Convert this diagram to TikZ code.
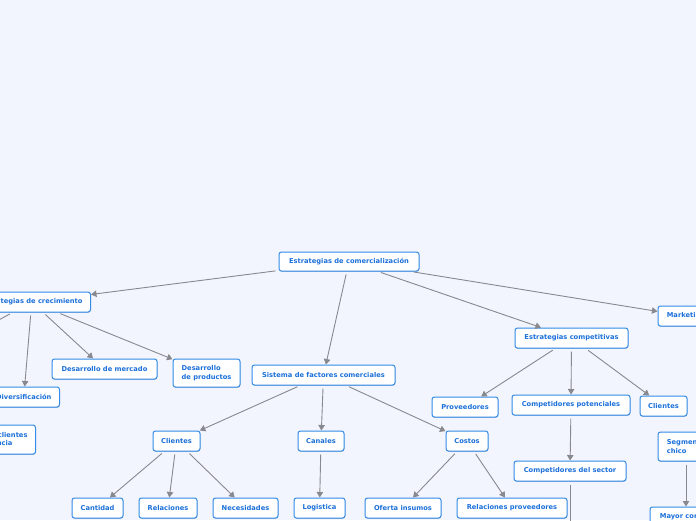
\documentclass[tikz,border=0pt]{standalone}
\usepackage{fontspec}
\setmainfont{DejaVu Sans}
\usetikzlibrary{arrows.meta,shadows}
\definecolor{bgc}{RGB}{242,245,254}
\definecolor{bordc}{RGB}{52,140,230}
\definecolor{txtc}{RGB}{28,112,218}
\definecolor{edgec}{RGB}{136,137,142}
\begin{document}
\begin{tikzpicture}[x=1pt,y=-1pt,
  box/.style={draw=bordc, fill=white, rounded corners=2.5pt, line width=1pt, text=txtc,
    font=\fontsize{6.7}{8.4}\selectfont\bfseries, minimum height=20pt, inner xsep=8pt, inner ysep=0pt,
    drop shadow={shadow xshift=0.3pt, shadow yshift=-0.8pt, fill=bordc!50!black, opacity=0.3}},
  twol/.style={align=left, minimum height=29pt},
  edgeline/.style={draw=edgec, line width=0.9pt, -{Triangle[length=5.5pt,width=6.5pt]}, shorten <=3pt}]
\useasboundingbox (0,0) rectangle (696,520);
\fill[bgc] (0,0) rectangle (696,520);
\begin{scope}
\clip (0,0) rectangle (696,520);
% level 0
\node[box, minimum width=140pt, minimum height=19pt] (com) at (349,261.5) {Estrategias de comercialización};
% left branch
\node[box, anchor=east] (crec) at (91,302) {Estrategias de crecimiento};
\node[box, minimum width=105pt] (dmer) at (104.5,369) {Desarrollo de mercado};
\node[box, twol, minimum width=67pt, minimum height=28pt] (dpro) at (206.5,373) {Desarrollo\\de productos};
\node[box, anchor=east] (div) at (60,397) {Diversificación};
\node[box, twol, anchor=east] (capt) at (36,439.5) {Captar más clientes\\de competencia};
\coordinate (off1) at (-60,352);
% middle branch
\node[box, minimum width=143pt] (sist) at (323.5,375) {Sistema de factores comerciales};
\node[box, minimum width=47pt] (cli1) at (176.5,441) {Clientes};
\node[box, minimum width=46pt] (can) at (321,441) {Canales};
\node[box, minimum width=42pt] (cost) at (467,441) {Costos};
\node[box, minimum width=51pt] (cant) at (97.5,508) {Cantidad};
\node[box, minimum width=58pt] (rel) at (168,508) {Relaciones};
\node[box, minimum width=65pt] (nec) at (245.5,508) {Necesidades};
\node[box, minimum width=51pt] (log) at (319.5,508) {Logistica};
\node[box, minimum width=76pt] (ofer) at (403,508) {Oferta insumos};
\node[box, minimum width=110pt] (relp) at (512,508) {Relaciones proveedores};
% right branch
\node[box, minimum width=113pt] (comp) at (571.5,338) {Estrategias competitivas};
\node[box, minimum width=66pt] (prov) at (465,407) {Proveedores};
\node[box, minimum width=118pt] (cpot) at (571,405) {Competidores potenciales};
\node[box, minimum width=47pt] (cli2) at (663.5,406) {Clientes};
\node[box, minimum width=112pt] (csec) at (570,471) {Competidores del sector};
\coordinate (off2) at (570,600);
% far right
\node[box, minimum width=56pt] (mkt) at (686,316) {Marketing};
\node[box, twol, minimum width=56pt, minimum height=29pt] (seg) at (686,446.5) {Segmento\\chico};
\node[box, minimum width=72pt] (may) at (686,517) {Mayor control};
% connectors
\draw[edgeline] (com) -- (crec);
\draw[edgeline] (com) -- (sist);
\draw[edgeline] (com) -- (comp);
\draw[edgeline] (com) -- (mkt);
\draw[edgeline] (crec) -- (dmer);
\draw[edgeline] (crec) -- (dpro);
\draw[edgeline] (crec) -- (div);
\draw[edgeline] (crec) -- (off1);
\draw[edgeline] (sist) -- (cli1);
\draw[edgeline] (sist) -- (can);
\draw[edgeline] (sist) -- (cost);
\draw[edgeline] (cli1) -- (cant);
\draw[edgeline] (cli1) -- (rel);
\draw[edgeline] (cli1) -- (nec);
\draw[edgeline] (can) -- (log);
\draw[edgeline] (cost) -- (ofer);
\draw[edgeline] (cost) -- (relp);
\draw[edgeline] (comp) -- (prov);
\draw[edgeline] (comp) -- (cpot);
\draw[edgeline] (comp) -- (cli2);
\draw[edgeline] (cpot) -- (csec);
\draw[edgeline] (csec) -- (off2);
\draw[edgeline] (seg) -- (may);
\end{scope}
\end{tikzpicture}
\end{document}
